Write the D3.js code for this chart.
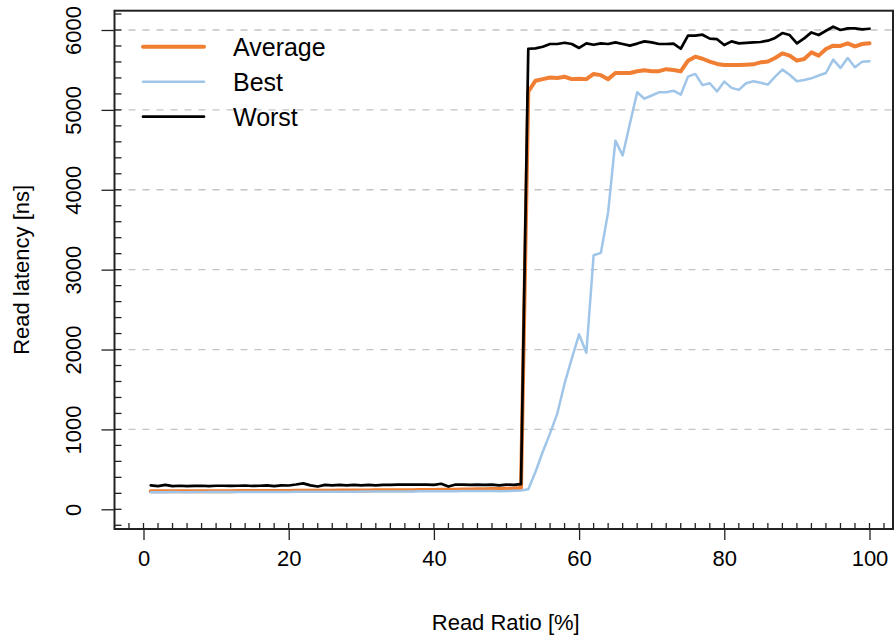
<!DOCTYPE html>
<html>
<head>
<meta charset="utf-8">
<script src="https://cdn.jsdelivr.net/npm/d3@7"></script>
<style>
  html, body { margin: 0; padding: 0; background: #fff; }
  svg { display: block; }
  text { font-family: "Liberation Sans", Arial, Helvetica, sans-serif; fill: #000; }
</style>
</head>
<body>
<svg id="chart" width="895" height="639"></svg>
<script>
// Read ratio in percent (x values)
const readRatio = d3.range(1, 101);

// Read latency in ns for each read ratio
const average = [
  225,225,226,225,225,226,225,226,226,227,
  227,227,228,228,228,229,229,230,230,230,
  231,231,232,232,233,233,234,234,235,235,
  236,237,237,238,239,240,240,241,242,243,
  244,245,246,248,249,250,252,253,255,257,
  260,268,5230,5365,5385,5405,5400,5415,5385,5390,
  5385,5450,5435,5385,5462,5462,5462,5483,5495,5485,
  5485,5510,5500,5483,5616,5666,5640,5604,5575,5562,
  5562,5562,5566,5570,5595,5605,5650,5708,5680,5616,
  5637,5720,5679,5762,5804,5800,5833,5795,5825,5833
];
const best = [
  215,215,215,216,215,215,216,215,216,216,
  216,216,217,217,217,217,218,218,218,218,
  219,219,219,220,220,220,221,221,221,222,
  222,222,223,223,223,224,224,225,225,226,
  226,227,227,228,228,229,230,228,226,229,
  232,236,250,470,720,950,1200,1575,1890,2190,
  1960,3180,3210,3720,4615,4430,4830,5220,5140,5180,
  5220,5220,5240,5190,5416,5450,5310,5333,5230,5354,
  5275,5250,5333,5358,5340,5316,5416,5504,5440,5358,
  5375,5395,5430,5462,5629,5525,5650,5533,5604,5608
];
const worst = [
  300,290,305,290,295,290,292,295,290,295,
  295,293,295,298,292,295,300,290,300,298,
  310,325,300,285,305,300,305,300,305,300,
  305,300,305,305,308,310,308,310,308,305,
  320,285,310,308,305,310,305,310,300,310,
  305,315,5765,5770,5790,5825,5825,5840,5825,5775,
  5833,5815,5833,5825,5845,5825,5805,5830,5858,5845,
  5825,5825,5830,5765,5930,5930,5941,5892,5885,5812,
  5858,5833,5840,5845,5850,5866,5900,5962,5937,5833,
  5895,5970,5937,5991,6041,6000,6020,6020,6008,6016
];

const seriesNames = ["Average", "Best", "Worst"];
const seriesColors = ["#f07f33", "#9fc5e8", "#000000"];
const seriesWidths = [4, 2.5, 2.7];

const xTicks = [0, 20, 40, 60, 80, 100];
const yTicks = [0, 1000, 2000, 3000, 4000, 5000, 6000];
const gridValues = [1000, 2000, 3000, 4000, 5000, 6000];

const svg = d3.select("#chart");

// Plot frame
const box = { left: 114.5, right: 893, top: 10.7, bottom: 529 };

const x = d3.scaleLinear().domain([0, 100]).range([143.5, 869.5]);
const y = d3.scaleLinear().domain([0, 6000]).range([509.3, 30]);

// Dashed horizontal grid
svg.append("g").selectAll("line").data(gridValues).join("line")
  .attr("x1", box.left).attr("x2", box.right)
  .attr("y1", d => y(d)).attr("y2", d => y(d))
  .attr("stroke", "#c4c4c4").attr("stroke-width", 1.3)
  .attr("stroke-dasharray", "7,7");

// Series lines
const series = [average, best, worst];
const line = d3.line().x((d, i) => x(readRatio[i])).y(d => y(d));
series.forEach((vals, k) => {
  svg.append("path").datum(vals)
    .attr("d", line)
    .attr("fill", "none")
    .attr("stroke", seriesColors[k])
    .attr("stroke-width", seriesWidths[k])
    .attr("stroke-linejoin", "round")
    .attr("stroke-linecap", "round");
});

// Frame
svg.append("rect")
  .attr("x", box.left).attr("y", box.top)
  .attr("width", box.right - box.left).attr("height", box.bottom - box.top)
  .attr("fill", "none").attr("stroke", "#222").attr("stroke-width", 2);

// Bottom axis: major ticks outward, minor ticks inward
const xAxis = d3.axisBottom(x).tickValues(xTicks).tickSize(11).tickPadding(10).tickSizeOuter(0);
const gx = svg.append("g").attr("transform", `translate(0,${box.bottom})`).call(xAxis);
gx.select(".domain").remove();
gx.selectAll(".tick line").attr("stroke", "#222").attr("stroke-width", 1.3);
gx.selectAll(".tick text")
  .attr("font-size", 22).attr("font-family", "Liberation Sans, Arial, sans-serif")
  .attr("fill", "#000");

const xMinor = d3.range(-2, 103, 2);
svg.append("g").selectAll("line").data(xMinor).join("line")
  .attr("x1", d => x(d)).attr("x2", d => x(d))
  .attr("y1", box.bottom).attr("y2", box.bottom - 6)
  .attr("stroke", "#222").attr("stroke-width", 1.3);

// Left axis: major ticks outward, minor ticks inward, rotated labels
const yAxis = d3.axisLeft(y).tickValues(yTicks).tickSize(13).tickFormat(d3.format("d")).tickSizeOuter(0);
const gy = svg.append("g").attr("transform", `translate(${box.left},0)`).call(yAxis);
gy.select(".domain").remove();
gy.selectAll(".tick line").attr("stroke", "#222").attr("stroke-width", 1.3);
gy.selectAll(".tick text")
  .attr("font-size", 22).attr("font-family", "Liberation Sans, Arial, sans-serif")
  .attr("fill", "#000")
  .attr("x", null).attr("dy", null)
  .attr("text-anchor", "middle")
  .attr("transform", `translate(-34,0) rotate(-90)`);

const yMinor = d3.range(-200, 6201, 200);
svg.append("g").selectAll("line").data(yMinor).join("line")
  .attr("x1", box.left).attr("x2", box.left + 7)
  .attr("y1", d => y(d)).attr("y2", d => y(d))
  .attr("stroke", "#222").attr("stroke-width", 1.3);

// Axis titles
svg.append("text")
  .attr("x", (box.left + box.right) / 2 + 2).attr("y", 630)
  .attr("text-anchor", "middle").attr("font-size", 22)
  .text("Read Ratio [%]");

svg.append("text")
  .attr("transform", `translate(29,${(box.top + box.bottom) / 2}) rotate(-90)`)
  .attr("text-anchor", "middle").attr("font-size", 22)
  .text("Read latency [ns]");

// Legend
const legendY = [46.7, 81.7, 116.7];
const legend = svg.append("g");
seriesNames.forEach((name, k) => {
  legend.append("line")
    .attr("x1", 143).attr("x2", 204)
    .attr("y1", legendY[k]).attr("y2", legendY[k])
    .attr("stroke", seriesColors[k]).attr("stroke-width", seriesWidths[k])
    .attr("stroke-linecap", "round");
  legend.append("text")
    .attr("x", 233).attr("y", legendY[k] + 8.8)
    .attr("font-size", 25)
    .text(name);
});
</script>
</body>
</html>
